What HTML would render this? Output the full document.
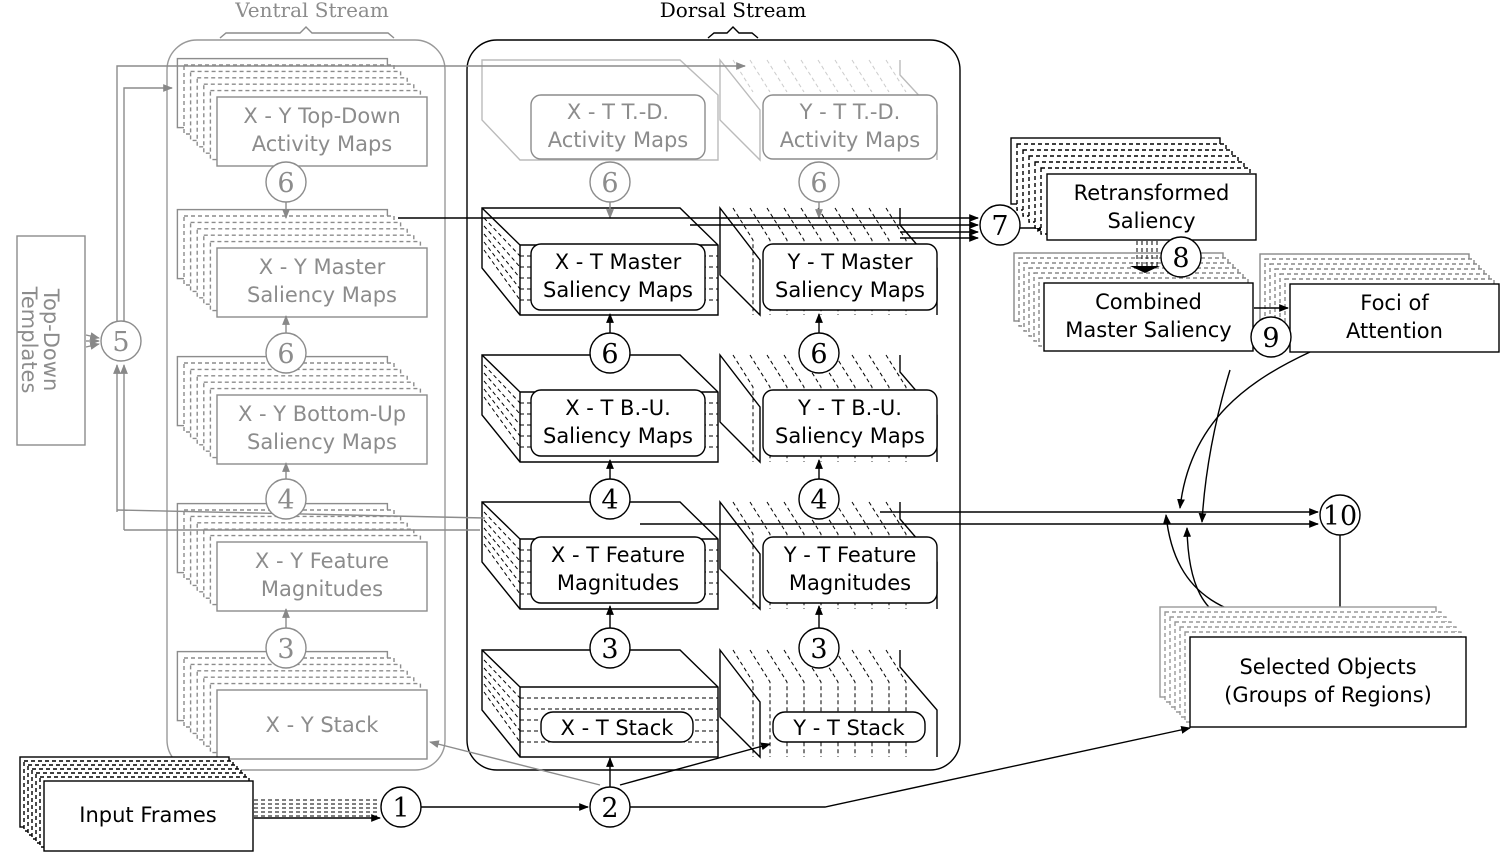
<!DOCTYPE html>
<html><head><meta charset="utf-8"><style>
html,body{margin:0;padding:0;background:#fff;width:1500px;height:852px;overflow:hidden}
svg{display:block}
svg text{font-family:"DejaVu Sans","Liberation Sans",sans-serif;font-size:21px;text-anchor:middle}
svg text.n{font-family:"DejaVu Serif","Liberation Serif",serif;font-size:27px}
svg text.h{font-family:"DejaVu Serif","Liberation Serif",serif;font-size:20px}
</style></head><body>
<svg id="s" width="1500" height="852" viewBox="0 0 1500 852" xmlns="http://www.w3.org/2000/svg">
<defs>
<marker id="a" viewBox="0 0 10 10" refX="9" refY="5" markerWidth="7" markerHeight="7" orient="auto-start-reverse"><path d="M0,1 L10,5 L0,9z" fill="#000"/></marker>
<marker id="g" viewBox="0 0 10 10" refX="9" refY="5" markerWidth="7" markerHeight="7" orient="auto-start-reverse"><path d="M0,1 L10,5 L0,9z" fill="#888"/></marker>
</defs>
<g id="root" fill="none" stroke-width="1.4"></g>
</svg>
<script>
var o='';var G='#8c8c8c';
function r(x,y,w,h,c,d,rx,f){o+='<rect x="'+x+'" y="'+y+'" width="'+w+'" height="'+h+'" stroke="'+c+'" fill="'+(f||'none')+'"'+(d?' stroke-dasharray="4,3"':'')+(rx?' rx="'+rx+'"':'')+'/>';}
function l(p,c,m,d,w){o+='<polyline points="'+p+'" stroke="'+c+'" fill="none"'+(m?' marker-end="url(#'+m+')"':'')+(d?' stroke-dasharray="4,3"':'')+(w?' stroke-width="'+w+'"':'')+'/>';}
function t(x,y,s,c,cls){o+='<text x="'+x+'" y="'+y+'" fill="'+c+'" stroke="none"'+(cls?' class="'+cls+'"':'')+'>'+s+'</text>';}
function circ(x,y,n,c){o+='<circle cx="'+x+'" cy="'+y+'" r="20" stroke="'+c+'" fill="#fff"/>';t(x,y+10,n,c,'n');}
function stack(fx,fy,w,h,dx,dy,n,c,lines,cc){
 for(var k=n;k>=1;k--){r(fx-k*dx,fy-k*dy,w,h,c,k<n,0,'#fff');}
 r(fx,fy,w,h,cc||c,0,0,'#fff');
 var ly=fy+26;for(var i=0;i<lines.length;i++)t(fx+w/2,ly+i*28,lines[i],cc||c);
}
// containers
r(167,40,278,730,'#999',0,30);r(467,40,493,730,'#000',0,30);
t(312,17,'Ventral Stream',G,'h');
t(733,17,'Dorsal Stream','#000','h');
l('220,38 226,33 300,33 306,27 312,33 388,33 394,38',G);l('708,38 714,33 727,33 733,27 739,33 752,33 758,38','#000');
// ventral stacks
var vy=[[97,['X - Y Top-Down','Activity Maps']],[248,['X - Y Master','Saliency Maps']],[395,['X - Y Bottom-Up','Saliency Maps']],[542,['X - Y Feature','Magnitudes']],[690,['']]];
vy.forEach(function(v){stack(217,v[0],210,69,6.6,6.4,6,G,v[1]);});
t(322,732,'X - Y Stack',G);
// top-down templates
r(17,236,68,209,G);o+='<text transform="translate(44,340) rotate(90)" fill="'+G+'" stroke="none" text-anchor="middle"><tspan x="0" y="0">Top-Down</tspan><tspan x="0" y="22">Templates</tspan></text>';
// dorsal slabs
function xslab(y,ly,lines){
 o+='<polygon points="482,'+y+' 680,'+y+' 718,'+(y+37)+' 718,'+(y+107)+' 520,'+(y+107)+' 482,'+(y+60)+'" fill="#fff" stroke="#000"/>';
 l('520,'+(y+37)+' 718,'+(y+37),'#000');l('482,'+y+' 520,'+(y+37)+' 520,'+(y+107),'#000');
 for(var k=1;k<6;k++){l((484)+','+(y+8*k+2)+' 520,'+(y+37+k*11),'#000',0,1,1);l('520,'+(y+37+k*11)+' 718,'+(y+37+k*11),'#000',0,1,1);}
 if(lines.length){r(531,ly,174,66,'#000',0,10,'#fff');t(618,ly+25,lines[0],'#000');t(618,ly+53,lines[1],'#000');}}
function yslab(y,ly,lines){
 o+='<polygon points="720,'+y+' 760,'+(y+52)+' 760,'+(y+107)+' 720,'+(y+67)+'" fill="#fff" stroke="#000"/>';
 l('900,'+y+' 900,'+(y+17)+' 937,'+(y+60)+' 937,'+(y+107),'#000');
 for(var k=0;k<10;k++){var x=733+k*17;l(x+','+y+' '+(x+20)+','+(y+32)+' '+(x+20)+','+(y+107),'#000',0,1,1);}
 if(lines.length){r(763,ly,174,66,'#000',0,10,'#fff');t(850,ly+25,lines[0],'#000');t(850,ly+53,lines[1],'#000');}}
xslab(208,244,['X - T Master','Saliency Maps']);yslab(208,244,['Y - T Master','Saliency Maps']);
xslab(355,390,['X - T B.-U.','Saliency Maps']);yslab(355,390,['Y - T B.-U.','Saliency Maps']);
xslab(502,537,['X - T Feature','Magnitudes']);yslab(502,537,['Y - T Feature','Magnitudes']);
xslab(650,0,[]);yslab(650,0,[]);
r(541,712,152,30,'#000',0,12,'#fff');t(617,735,'X - T Stack','#000');
r(773,712,152,30,'#000',0,12,'#fff');t(849,735,'Y - T Stack','#000');
// TD activity (gray)
o+='<polygon points="482,60 680,60 718,95 718,160 520,160 482,120" fill="#fff" stroke="#bbb"/>';
o+='<polygon points="720,60 760,110 760,160 720,120" fill="#fff" stroke="#bbb"/>';l('900,60 900,75 937,115 937,160','#bbb');
for(var k=0;k<10;k++){var x=733+k*17;l(x+',60 '+(x+20)+',92','#ccc',0,1,1);}
r(531,95,174,64,G,0,10,'#fff');t(618,119,'X - T T.-D.',G);t(618,147,'Activity Maps',G);
r(763,95,174,64,G,0,10,'#fff');t(850,119,'Y - T T.-D.',G);t(850,147,'Activity Maps',G);
// gray feedback lines
l('117,331 117,66 745,66',G,'g');l('124,331 124,88 172,88',G,'g');l('117,512 117,365',G,'g');l('124,530 124,365',G,'g');
l('117,510 485,518',G);l('124,530 480,530',G);
l('86,335 99,338',G,'g');l('86,341 99,341',G,'g');l('86,347 99,344',G,'g');
// circles
[[182,'6'],[353,'6'],[499,'4'],[648,'3']].forEach(function(c){circ(286,c[0],c[1],G);});
circ(121,341,'5',G);circ(610,182,'6',G);circ(819,182,'6',G);
[[353,'6'],[499,'4'],[648,'3']].forEach(function(c){circ(610,c[0],c[1],'#000');circ(819,c[0],c[1],'#000');});
// vertical arrows
[[202,218],[333,316],[479,463],[628,609]].forEach(function(a){l('286,'+a[0]+' 286,'+a[1],G,'g');});
l('610,202 610,218',G,'g');l('819,202 819,218',G,'g');
[[333,314],[479,460],[628,606]].forEach(function(a){l('610,'+a[0]+' 610,'+a[1],'#000','a');l('819,'+a[0]+' 819,'+a[1],'#000','a');});
// input and 1,2
stack(44,781,209,70,4,4,6,'#000',['']);t(148,822,'Input Frames','#000');
for(var i=0;i<5;i++)l('254,'+(800+i*4)+' 378,'+(800+i*4),'#000',0,1,1);l('254,818 380,818','#000','a');
circ(401,807,'1','#000');circ(610,807,'2','#000');
l('421,807 588,807','#000','a');l('610,787 610,758','#000','a');
l('620,785 770,744','#000','a');l('600,785 430,742',G,'g');
l('630,807 825,807 1190,728','#000','a');
// 7 lines
l('398,218 978,218','#000','a');l('690,225 978,225','#000','a');l('900,232 978,232','#000','a');l('900,238 978,238','#000','a');
circ(1000,225,'7','#000');l('1020,228 1046,228','#000','a');
stack(1047,174,209,66,6,6,6,'#000',['Retransformed','Saliency']);
stack(1044,283,209,68,5,5,6,'#888',['Combined','Master Saliency'],'#000');
for(var i=0;i<5;i++)l((1137+i*5)+',241 '+(1137+i*5)+',268','#000',0,1,1);
o+='<polygon points="1130,266 1160,266 1145,273" fill="#000"/>';
circ(1181,257,'8','#000');
stack(1290,284,209,68,5,5,6,'#888',['Foci  of','Attention'],'#000');
l('1254,308 1288,308','#000','a');
circ(1271,337,'9','#000');
// 10
l('880,512 1318,512','#000','a');l('640,524 1318,524','#000','a');
l('1340,535 1340,620','#000','a');
circ(1340,515,'10','#000');
o+='<path d="M1310,352 C1250,380 1190,420 1180,508" stroke="#000" fill="none" marker-end="url(#a)"/>';
o+='<path d="M1230,370 C1215,420 1205,470 1202,522" stroke="#000" fill="none" marker-end="url(#a)"/>';
o+='<path d="M1310,625 C1230,620 1175,600 1166,515" stroke="#000" fill="none" marker-end="url(#a)"/>';
o+='<path d="M1250,628 C1200,620 1188,580 1187,528" stroke="#000" fill="none" marker-end="url(#a)"/>';
stack(1190,637,276,90,5,5,6,'#999',[''],'#000');t(1328,674,'Selected Objects','#000');t(1328,702,'(Groups of Regions)','#000');
document.getElementById('root').innerHTML=o;
</script>
</body></html>
